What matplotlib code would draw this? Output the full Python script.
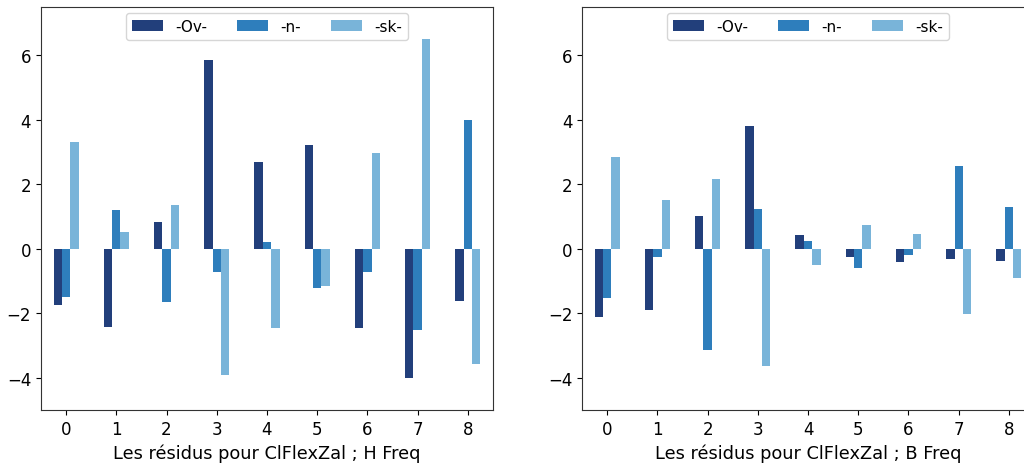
import numpy as np
import matplotlib
matplotlib.use("Agg")
import matplotlib.pyplot as plt

groups = [0, 1, 2, 3, 4, 5, 6, 7, 8]
series_names = ["-Ov-", "-n-", "-sk-"]

# H Freq residuals
h_ov = [-1.74, -2.42, 0.83, 5.86, 2.69, 3.21, -2.47, -4.00, -1.63]
h_n = [-1.50, 1.21, -1.64, -0.73, 0.22, -1.21, -0.71, -2.51, 3.98]
h_sk = [3.31, 0.52, 1.36, -3.90, -2.45, -1.14, 2.96, 6.52, -3.56]

# B Freq residuals
b_ov = [-2.12, -1.90, 1.02, 3.81, 0.43, -0.26, -0.42, -0.32, -0.39]
b_n = [-1.54, -0.24, -3.14, 1.22, 0.23, -0.60, -0.20, 2.58, 1.30]
b_sk = [2.85, 1.52, 2.16, -3.62, -0.49, 0.73, 0.46, -2.03, -0.89]

colors = ["#223f7b", "#2e7ebc", "#79b4d9"]

fig = plt.figure(figsize=(10.24, 4.64), dpi=100)
ax1 = fig.add_axes([0.040, 0.114, 0.4414, 0.869])
ax2 = fig.add_axes([0.5684, 0.114, 0.4414, 0.869])


def draw(ax, data, xlabel):
    x = np.arange(len(groups))
    w = 0.5 / 3
    for i, (vals, name) in enumerate(zip(data, series_names)):
        ax.bar(x + (i - 1) * w, vals, width=w, color=colors[i], label=name)
    ax.set_xlim(-0.5, len(groups) - 0.5)
    ax.set_ylim(-5, 7.5)
    ax.set_xticks(x)
    ax.set_xticklabels([str(g) for g in groups])
    ax.set_yticks([-4, -2, 0, 2, 4, 6])
    ax.tick_params(labelsize=12)
    for s in ax.spines.values():
        s.set_color("#333333")
    ax.set_xlabel(xlabel, fontsize=12.8, labelpad=4)
    ax.legend(loc="upper center", ncol=3, fontsize=11, borderaxespad=0.4)


draw(ax1, [h_ov, h_n, h_sk], "Les résidus pour ClFlexZal ; H Freq")
draw(ax2, [b_ov, b_n, b_sk], "Les résidus pour ClFlexZal ; B Freq")

fig.savefig("out.png", dpi=100)
